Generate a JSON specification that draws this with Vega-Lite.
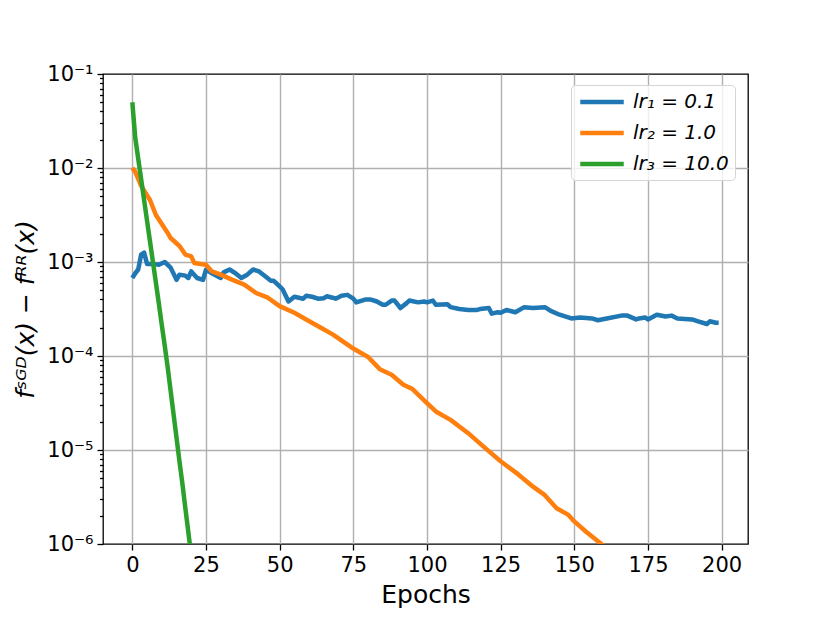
{
  "$schema": "https://vega.github.io/schema/vega-lite/v6.json",
  "width": 645,
  "height": 470,
  "autosize": {"type": "none"},
  "padding": {"left": 103, "top": 74, "right": 82, "bottom": 79},
  "background": "white",
  "config": {
    "font": "DejaVu Sans",
    "view": {"stroke": "black", "strokeWidth": 1.3},
    "axis": {"domainColor": "black", "tickColor": "black", "labelColor": "black", "titleColor": "black", "gridColor": "#b0b0b0", "gridWidth": 1.4, "labelFont": "DejaVu Sans", "titleFont": "DejaVu Sans", "titleFontWeight": "normal"}
  },
  "data": {
    "values": [
      {"epoch": 0, "loss": 6.76e-4, "lr": "lr₁ = 0.1"},
      {"epoch": 1, "loss": 7.59e-4, "lr": "lr₁ = 0.1"},
      {"epoch": 2, "loss": 8.32e-4, "lr": "lr₁ = 0.1"},
      {"epoch": 3, "loss": 1.20e-3, "lr": "lr₁ = 0.1"},
      {"epoch": 4, "loss": 1.26e-3, "lr": "lr₁ = 0.1"},
      {"epoch": 5, "loss": 9.55e-4, "lr": "lr₁ = 0.1"},
      {"epoch": 7, "loss": 9.55e-4, "lr": "lr₁ = 0.1"},
      {"epoch": 9, "loss": 9.33e-4, "lr": "lr₁ = 0.1"},
      {"epoch": 11, "loss": 1.00e-3, "lr": "lr₁ = 0.1"},
      {"epoch": 13, "loss": 8.71e-4, "lr": "lr₁ = 0.1"},
      {"epoch": 15, "loss": 6.46e-4, "lr": "lr₁ = 0.1"},
      {"epoch": 16, "loss": 7.33e-4, "lr": "lr₁ = 0.1"},
      {"epoch": 18, "loss": 7.16e-4, "lr": "lr₁ = 0.1"},
      {"epoch": 19, "loss": 6.76e-4, "lr": "lr₁ = 0.1"},
      {"epoch": 20, "loss": 7.94e-4, "lr": "lr₁ = 0.1"},
      {"epoch": 22, "loss": 6.76e-4, "lr": "lr₁ = 0.1"},
      {"epoch": 24, "loss": 6.46e-4, "lr": "lr₁ = 0.1"},
      {"epoch": 25, "loss": 8.32e-4, "lr": "lr₁ = 0.1"},
      {"epoch": 27, "loss": 7.59e-4, "lr": "lr₁ = 0.1"},
      {"epoch": 30, "loss": 6.76e-4, "lr": "lr₁ = 0.1"},
      {"epoch": 31, "loss": 7.76e-4, "lr": "lr₁ = 0.1"},
      {"epoch": 33, "loss": 8.32e-4, "lr": "lr₁ = 0.1"},
      {"epoch": 35, "loss": 7.59e-4, "lr": "lr₁ = 0.1"},
      {"epoch": 37, "loss": 6.76e-4, "lr": "lr₁ = 0.1"},
      {"epoch": 39, "loss": 7.33e-4, "lr": "lr₁ = 0.1"},
      {"epoch": 41, "loss": 8.32e-4, "lr": "lr₁ = 0.1"},
      {"epoch": 43, "loss": 7.94e-4, "lr": "lr₁ = 0.1"},
      {"epoch": 45, "loss": 7.08e-4, "lr": "lr₁ = 0.1"},
      {"epoch": 47, "loss": 6.31e-4, "lr": "lr₁ = 0.1"},
      {"epoch": 48, "loss": 6.31e-4, "lr": "lr₁ = 0.1"},
      {"epoch": 50, "loss": 5.50e-4, "lr": "lr₁ = 0.1"},
      {"epoch": 51, "loss": 5.13e-4, "lr": "lr₁ = 0.1"},
      {"epoch": 53, "loss": 3.80e-4, "lr": "lr₁ = 0.1"},
      {"epoch": 55, "loss": 4.27e-4, "lr": "lr₁ = 0.1"},
      {"epoch": 58, "loss": 4.07e-4, "lr": "lr₁ = 0.1"},
      {"epoch": 59, "loss": 4.37e-4, "lr": "lr₁ = 0.1"},
      {"epoch": 61, "loss": 4.27e-4, "lr": "lr₁ = 0.1"},
      {"epoch": 63, "loss": 4.07e-4, "lr": "lr₁ = 0.1"},
      {"epoch": 65, "loss": 4.12e-4, "lr": "lr₁ = 0.1"},
      {"epoch": 66, "loss": 4.32e-4, "lr": "lr₁ = 0.1"},
      {"epoch": 68, "loss": 4.17e-4, "lr": "lr₁ = 0.1"},
      {"epoch": 69, "loss": 4.07e-4, "lr": "lr₁ = 0.1"},
      {"epoch": 71, "loss": 4.37e-4, "lr": "lr₁ = 0.1"},
      {"epoch": 73, "loss": 4.47e-4, "lr": "lr₁ = 0.1"},
      {"epoch": 75, "loss": 4.07e-4, "lr": "lr₁ = 0.1"},
      {"epoch": 76, "loss": 3.72e-4, "lr": "lr₁ = 0.1"},
      {"epoch": 79, "loss": 3.98e-4, "lr": "lr₁ = 0.1"},
      {"epoch": 81, "loss": 3.98e-4, "lr": "lr₁ = 0.1"},
      {"epoch": 83, "loss": 3.80e-4, "lr": "lr₁ = 0.1"},
      {"epoch": 85, "loss": 3.51e-4, "lr": "lr₁ = 0.1"},
      {"epoch": 86, "loss": 3.51e-4, "lr": "lr₁ = 0.1"},
      {"epoch": 88, "loss": 3.89e-4, "lr": "lr₁ = 0.1"},
      {"epoch": 89, "loss": 3.89e-4, "lr": "lr₁ = 0.1"},
      {"epoch": 91, "loss": 3.24e-4, "lr": "lr₁ = 0.1"},
      {"epoch": 93, "loss": 3.63e-4, "lr": "lr₁ = 0.1"},
      {"epoch": 94, "loss": 3.89e-4, "lr": "lr₁ = 0.1"},
      {"epoch": 97, "loss": 3.72e-4, "lr": "lr₁ = 0.1"},
      {"epoch": 99, "loss": 3.80e-4, "lr": "lr₁ = 0.1"},
      {"epoch": 100, "loss": 3.72e-4, "lr": "lr₁ = 0.1"},
      {"epoch": 102, "loss": 3.89e-4, "lr": "lr₁ = 0.1"},
      {"epoch": 103, "loss": 3.51e-4, "lr": "lr₁ = 0.1"},
      {"epoch": 107, "loss": 3.55e-4, "lr": "lr₁ = 0.1"},
      {"epoch": 108, "loss": 3.31e-4, "lr": "lr₁ = 0.1"},
      {"epoch": 111, "loss": 3.16e-4, "lr": "lr₁ = 0.1"},
      {"epoch": 114, "loss": 3.09e-4, "lr": "lr₁ = 0.1"},
      {"epoch": 117, "loss": 3.09e-4, "lr": "lr₁ = 0.1"},
      {"epoch": 118, "loss": 3.16e-4, "lr": "lr₁ = 0.1"},
      {"epoch": 121, "loss": 3.24e-4, "lr": "lr₁ = 0.1"},
      {"epoch": 122, "loss": 2.82e-4, "lr": "lr₁ = 0.1"},
      {"epoch": 124, "loss": 2.92e-4, "lr": "lr₁ = 0.1"},
      {"epoch": 125, "loss": 2.88e-4, "lr": "lr₁ = 0.1"},
      {"epoch": 127, "loss": 3.09e-4, "lr": "lr₁ = 0.1"},
      {"epoch": 130, "loss": 2.92e-4, "lr": "lr₁ = 0.1"},
      {"epoch": 133, "loss": 3.31e-4, "lr": "lr₁ = 0.1"},
      {"epoch": 136, "loss": 3.24e-4, "lr": "lr₁ = 0.1"},
      {"epoch": 140, "loss": 3.31e-4, "lr": "lr₁ = 0.1"},
      {"epoch": 142, "loss": 3.02e-4, "lr": "lr₁ = 0.1"},
      {"epoch": 145, "loss": 2.75e-4, "lr": "lr₁ = 0.1"},
      {"epoch": 149, "loss": 2.51e-4, "lr": "lr₁ = 0.1"},
      {"epoch": 152, "loss": 2.57e-4, "lr": "lr₁ = 0.1"},
      {"epoch": 156, "loss": 2.51e-4, "lr": "lr₁ = 0.1"},
      {"epoch": 158, "loss": 2.40e-4, "lr": "lr₁ = 0.1"},
      {"epoch": 161, "loss": 2.51e-4, "lr": "lr₁ = 0.1"},
      {"epoch": 166, "loss": 2.69e-4, "lr": "lr₁ = 0.1"},
      {"epoch": 168, "loss": 2.69e-4, "lr": "lr₁ = 0.1"},
      {"epoch": 171, "loss": 2.45e-4, "lr": "lr₁ = 0.1"},
      {"epoch": 172, "loss": 2.51e-4, "lr": "lr₁ = 0.1"},
      {"epoch": 174, "loss": 2.57e-4, "lr": "lr₁ = 0.1"},
      {"epoch": 175, "loss": 2.45e-4, "lr": "lr₁ = 0.1"},
      {"epoch": 178, "loss": 2.75e-4, "lr": "lr₁ = 0.1"},
      {"epoch": 181, "loss": 2.63e-4, "lr": "lr₁ = 0.1"},
      {"epoch": 183, "loss": 2.69e-4, "lr": "lr₁ = 0.1"},
      {"epoch": 185, "loss": 2.51e-4, "lr": "lr₁ = 0.1"},
      {"epoch": 190, "loss": 2.45e-4, "lr": "lr₁ = 0.1"},
      {"epoch": 192, "loss": 2.34e-4, "lr": "lr₁ = 0.1"},
      {"epoch": 195, "loss": 2.19e-4, "lr": "lr₁ = 0.1"},
      {"epoch": 196, "loss": 2.34e-4, "lr": "lr₁ = 0.1"},
      {"epoch": 198, "loss": 2.26e-4, "lr": "lr₁ = 0.1"},
      {"epoch": 199, "loss": 2.26e-4, "lr": "lr₁ = 0.1"},
      {"epoch": 0, "loss": 1.00e-2, "lr": "lr₂ = 1.0"},
      {"epoch": 1, "loss": 9.12e-3, "lr": "lr₂ = 1.0"},
      {"epoch": 3, "loss": 6.46e-3, "lr": "lr₂ = 1.0"},
      {"epoch": 6, "loss": 4.57e-3, "lr": "lr₂ = 1.0"},
      {"epoch": 8, "loss": 3.16e-3, "lr": "lr₂ = 1.0"},
      {"epoch": 12, "loss": 2.04e-3, "lr": "lr₂ = 1.0"},
      {"epoch": 13, "loss": 1.80e-3, "lr": "lr₂ = 1.0"},
      {"epoch": 16, "loss": 1.48e-3, "lr": "lr₂ = 1.0"},
      {"epoch": 18, "loss": 1.20e-3, "lr": "lr₂ = 1.0"},
      {"epoch": 20, "loss": 1.15e-3, "lr": "lr₂ = 1.0"},
      {"epoch": 21, "loss": 9.77e-4, "lr": "lr₂ = 1.0"},
      {"epoch": 25, "loss": 9.33e-4, "lr": "lr₂ = 1.0"},
      {"epoch": 27, "loss": 7.94e-4, "lr": "lr₂ = 1.0"},
      {"epoch": 30, "loss": 7.33e-4, "lr": "lr₂ = 1.0"},
      {"epoch": 34, "loss": 6.46e-4, "lr": "lr₂ = 1.0"},
      {"epoch": 38, "loss": 5.75e-4, "lr": "lr₂ = 1.0"},
      {"epoch": 42, "loss": 4.68e-4, "lr": "lr₂ = 1.0"},
      {"epoch": 46, "loss": 4.17e-4, "lr": "lr₂ = 1.0"},
      {"epoch": 50, "loss": 3.39e-4, "lr": "lr₂ = 1.0"},
      {"epoch": 55, "loss": 2.88e-4, "lr": "lr₂ = 1.0"},
      {"epoch": 59, "loss": 2.45e-4, "lr": "lr₂ = 1.0"},
      {"epoch": 64, "loss": 2.00e-4, "lr": "lr₂ = 1.0"},
      {"epoch": 68, "loss": 1.70e-4, "lr": "lr₂ = 1.0"},
      {"epoch": 75, "loss": 1.20e-4, "lr": "lr₂ = 1.0"},
      {"epoch": 80, "loss": 9.77e-5, "lr": "lr₂ = 1.0"},
      {"epoch": 84, "loss": 7.24e-5, "lr": "lr₂ = 1.0"},
      {"epoch": 88, "loss": 6.31e-5, "lr": "lr₂ = 1.0"},
      {"epoch": 92, "loss": 4.95e-5, "lr": "lr₂ = 1.0"},
      {"epoch": 95, "loss": 4.47e-5, "lr": "lr₂ = 1.0"},
      {"epoch": 100, "loss": 3.16e-5, "lr": "lr₂ = 1.0"},
      {"epoch": 103, "loss": 2.57e-5, "lr": "lr₂ = 1.0"},
      {"epoch": 108, "loss": 2.09e-5, "lr": "lr₂ = 1.0"},
      {"epoch": 114, "loss": 1.51e-5, "lr": "lr₂ = 1.0"},
      {"epoch": 119, "loss": 1.10e-5, "lr": "lr₂ = 1.0"},
      {"epoch": 125, "loss": 7.59e-6, "lr": "lr₂ = 1.0"},
      {"epoch": 131, "loss": 5.50e-6, "lr": "lr₂ = 1.0"},
      {"epoch": 136, "loss": 4.07e-6, "lr": "lr₂ = 1.0"},
      {"epoch": 140, "loss": 3.31e-6, "lr": "lr₂ = 1.0"},
      {"epoch": 144, "loss": 2.40e-6, "lr": "lr₂ = 1.0"},
      {"epoch": 148, "loss": 2.04e-6, "lr": "lr₂ = 1.0"},
      {"epoch": 150, "loss": 1.74e-6, "lr": "lr₂ = 1.0"},
      {"epoch": 154, "loss": 1.35e-6, "lr": "lr₂ = 1.0"},
      {"epoch": 160, "loss": 9.55e-7, "lr": "lr₂ = 1.0"},
      {"epoch": 163, "loss": 7.94e-7, "lr": "lr₂ = 1.0"},
      {"epoch": 0, "loss": 5.01e-2, "lr": "lr₃ = 10.0"},
      {"epoch": 1, "loss": 2.09e-2, "lr": "lr₃ = 10.0"},
      {"epoch": 2, "loss": 1.26e-2, "lr": "lr₃ = 10.0"},
      {"epoch": 3, "loss": 7.59e-3, "lr": "lr₃ = 10.0"},
      {"epoch": 4, "loss": 4.57e-3, "lr": "lr₃ = 10.0"},
      {"epoch": 5, "loss": 2.75e-3, "lr": "lr₃ = 10.0"},
      {"epoch": 6, "loss": 1.66e-3, "lr": "lr₃ = 10.0"},
      {"epoch": 7, "loss": 1.00e-3, "lr": "lr₃ = 10.0"},
      {"epoch": 8, "loss": 6.03e-4, "lr": "lr₃ = 10.0"},
      {"epoch": 9, "loss": 3.63e-4, "lr": "lr₃ = 10.0"},
      {"epoch": 10, "loss": 2.14e-4, "lr": "lr₃ = 10.0"},
      {"epoch": 11, "loss": 1.29e-4, "lr": "lr₃ = 10.0"},
      {"epoch": 12, "loss": 7.59e-5, "lr": "lr₃ = 10.0"},
      {"epoch": 13, "loss": 4.27e-5, "lr": "lr₃ = 10.0"},
      {"epoch": 14, "loss": 2.40e-5, "lr": "lr₃ = 10.0"},
      {"epoch": 15, "loss": 1.35e-5, "lr": "lr₃ = 10.0"},
      {"epoch": 16, "loss": 7.59e-6, "lr": "lr₃ = 10.0"},
      {"epoch": 17, "loss": 4.37e-6, "lr": "lr₃ = 10.0"},
      {"epoch": 18, "loss": 2.40e-6, "lr": "lr₃ = 10.0"},
      {"epoch": 19, "loss": 1.35e-6, "lr": "lr₃ = 10.0"},
      {"epoch": 20, "loss": 7.41e-7, "lr": "lr₃ = 10.0"}
    ]
  },
  "mark": {"type": "line", "strokeWidth": 4.5, "clip": true, "strokeJoin": "round", "strokeCap": "butt"},
  "encoding": {
    "x": {
      "field": "epoch", "type": "quantitative",
      "scale": {"domain": [-9.95, 208.95], "nice": false, "zero": false},
      "axis": {"values": [0, 25, 50, 75, 100, 125, 150, 175, 200], "title": "Epochs", "titleFontSize": 25, "labelFontSize": 21, "tickSize": 6, "tickWidth": 1.3, "labelPadding": 4, "titlePadding": 7, "domain": false, "labelFlush": false}
    },
    "y": {
      "field": "loss", "type": "quantitative",
      "scale": {"type": "log", "domain": [1e-6, 0.1], "nice": false},
      "axis": {
        "values": [1e-6, 2e-6, 3e-6, 4e-6, 5e-6, 6e-6, 7e-6, 8e-6, 9e-6, 1e-5, 2e-5, 3e-5, 4e-5, 5e-5, 6e-5, 7e-5, 8e-5, 9e-5, 1e-4, 2e-4, 3e-4, 4e-4, 5e-4, 6e-4, 7e-4, 8e-4, 9e-4, 1e-3, 2e-3, 3e-3, 4e-3, 5e-3, 6e-3, 7e-3, 8e-3, 9e-3, 1e-2, 2e-2, 3e-2, 4e-2, 5e-2, 6e-2, 7e-2, 8e-2, 9e-2, 0.1],
        "labelExpr": "abs(log(datum.value)/LN10 - round(log(datum.value)/LN10)) < 0.001 ? '10' + ['⁰','⁻¹','⁻²','⁻³','⁻⁴','⁻⁵','⁻⁶'][-round(log(datum.value)/LN10)] : ''",
        "labelOverlap": false,
        "labelBound": false,
        "labelFlush": false,
        "labelFontSize": 21,
        "labelPadding": 4,
        "tickWidth": 1.3,
        "tickSize": {"condition": {"test": "abs(log(datum.value)/LN10 - round(log(datum.value)/LN10)) < 0.001", "value": 6}, "value": 3.5},
        "gridOpacity": {"condition": {"test": "abs(log(datum.value)/LN10 - round(log(datum.value)/LN10)) < 0.001 && datum.value < 0.05 && datum.value > 2e-6", "value": 1}, "value": 0},
        "domain": false,
        "title": "fˢᴳᴰ(x) − fᴿᴿ(x)",
        "titleFontSize": 25,
        "titleFontStyle": "italic",
        "titlePadding": 8
      }
    },
    "color": {
      "field": "lr", "type": "nominal",
      "scale": {"domain": ["lr₁ = 0.1", "lr₂ = 1.0", "lr₃ = 10.0"], "range": ["#1f77b4", "#ff7f0e", "#2ca02c"]},
      "legend": {
        "title": null,
        "orient": "none",
        "legendX": 468,
        "legendY": 11,
        "symbolType": "M-2.6,0H2.6",
        "symbolSize": 280,
        "symbolOffset": 14,
        "symbolStrokeWidth": 4.5,
        "labelFontSize": 20,
        "labelFontStyle": "italic",
        "labelColor": "black",
        "labelOffset": 20,
        "rowPadding": 10,
        "padding": 6,
        "fillColor": "rgba(255,255,255,0.8)",
        "strokeColor": "#d5d5d5",
        "cornerRadius": 4,
        "labelLimit": 300
      }
    }
  }
}
